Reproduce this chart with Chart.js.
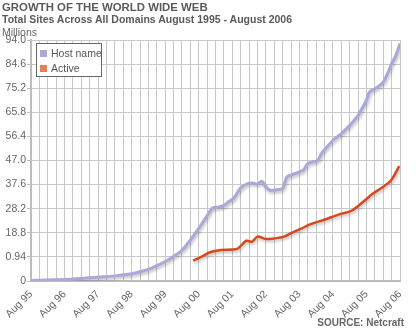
<!DOCTYPE html>
<html>
<head>
<meta charset="utf-8">
<script src="https://cdn.jsdelivr.net/npm/chart.js@4"></script>
<style>
  html, body { margin:0; padding:0; background:#fff; }
  body { width:416px; height:330px; position:relative; overflow:hidden; font-family:"Liberation Sans", Arial, sans-serif; color:#555; }
  #wrap { position:absolute; left:0; top:0; width:416px; height:330px; }
  .t1 { position:absolute; left:2px; top:1px; font-size:11.4px; font-weight:bold; color:#5a5a5a; white-space:nowrap; }
  .t2 { position:absolute; left:2px; top:13px; font-size:10.5px; font-weight:bold; color:#5a5a5a; white-space:nowrap; }
  .t3 { position:absolute; left:2px; top:26px; font-size:10.5px; color:#666; white-space:nowrap; }
  .src { position:absolute; right:12px; top:317px; font-size:10px; font-weight:bold; color:#666; white-space:nowrap; }
  .legend { position:absolute; left:36px; top:43px; width:64px; height:32px; border:1px solid #666; background:#fff; }
  .li { position:absolute; left:3px; font-size:10.5px; color:#555; white-space:nowrap; }
  .sw { display:inline-block; width:7px; height:7px; margin-right:4px; }
</style>
</head>
<body>
<div id="wrap"><canvas id="c" width="416" height="330"></canvas></div>
<div class="t1">GROWTH OF THE WORLD WIDE WEB</div>
<div class="t2">Total Sites Across All Domains August 1995 - August 2006</div>
<div class="t3">Millions</div>
<div class="legend">
  <div class="li" style="top:3px"><span class="sw" style="background:#a9a8d8"></span>Host name</div>
  <div class="li" style="top:18px"><span class="sw" style="background:#e0805f"></span>Active</div>
</div>
<div class="src">SOURCE: Netcraft</div>
<script>
// Months since Aug 1995
const hostMonths = [0,6,12,18,24,30,36,39,42,45,48,51,54,57,60,63,65,67,69,71,72,73,75,78,80,81,82.5,84,85.5,88,90,91.5,93,96,97.5,99,101,102.5,104,106,108,111,114,117,118,120,121,123,124,126,127.5,129,130.5,132];
const hostValues = [0.2,0.4,0.6,1.0,1.5,2.0,2.8,3.6,4.5,6.0,7.6,9.6,12.0,16.0,20.5,25.5,28.5,28.8,29.5,31.2,31.8,33.0,36.3,38.2,38.0,37.8,38.9,36.7,35.4,35.6,36.1,40.6,41.3,42.6,43.4,45.8,46.5,47.0,49.9,52.5,54.9,57.5,60.7,64.6,66.6,70.5,73.7,75.0,75.7,77.6,80.9,84.8,88.0,92.6];
const activeMonths = [58,61,64,68,72,74,77,79,81,84,87,90.5,94,96.4,100,104.6,110.5,114.6,118.8,122.3,125.9,128.8,131.7];
const activeValues = [7.9,9.5,11.2,12.1,12.3,12.7,15.7,15.3,17.3,16.4,16.6,17.3,19.2,20.3,22.2,23.8,26.1,27.4,30.9,34.1,36.7,39.3,44.8];
const xTickLabels = ['Aug 95','Aug 96','Aug 97','Aug 98','Aug 99','Aug 00','Aug 01','Aug 02','Aug 03','Aug 04','Aug 05','Aug 06'];
const yTickValues = [0,9.4,18.8,28.2,37.6,47.0,56.4,65.8,75.2,84.6,94.0];
const yTickLabels = ['0','0.94','18.8','28.2','37.6','47.0','56.4','65.8','75.2','84.6','94.0'];

const shadowPlugin = {
  id:'shadow',
  beforeDatasetsDraw(chart){ const ctx=chart.ctx; ctx.save(); ctx.shadowColor='rgba(0,0,0,0.25)'; ctx.shadowBlur=3; ctx.shadowOffsetX=1; ctx.shadowOffsetY=2; },
  afterDatasetsDraw(chart){ chart.ctx.restore(); }
};

new Chart(document.getElementById('c'), {
  type:'line',
  data:{ datasets:[
    { label:'Host name', data: hostMonths.map((m,i)=>({x:m,y:hostValues[i]})), borderColor:'#a9a8d8', borderWidth:3, pointRadius:0, tension:0.3, fill:false },
    { label:'Active', data: activeMonths.map((m,i)=>({x:m,y:activeValues[i]})), borderColor:'#d9481c', borderWidth:2.5, pointRadius:0, tension:0.3, fill:false }
  ]},
  options:{
    responsive:false, animation:false,
    layout:{ padding:{ left:0, right:12, top:40, bottom:0 } },
    plugins:{ legend:{display:false}, tooltip:{enabled:false}, title:{display:false} },
    scales:{
      x:{ type:'linear', min:0, max:132,
        afterBuildTicks(s){ const t=[]; for(let m=0;m<=132;m+=3) t.push({value:m}); s.ticks=t; },
        afterFit(s){ s.height=49; },
        ticks:{ autoSkip:false, minRotation:45, maxRotation:45, padding:7, color:'#666', font:{family:'Liberation Sans, Arial, sans-serif', size:10.5},
          callback(v){ return (v%12===0) ? xTickLabels[v/12] : ''; } },
        grid:{ color:'#c8c8c8', lineWidth:1, drawTicks:false },
        border:{ color:'#bdbdbd', width:2 }
      },
      y:{ type:'linear', min:0, max:94,
        afterBuildTicks(s){ s.ticks=yTickValues.map(v=>({value:v})); },
        afterFit(s){ s.width=31; },
        ticks:{ autoSkip:false, padding:1, color:'#666', font:{family:'Liberation Sans, Arial, sans-serif', size:10.5},
          callback(v){ const i=yTickValues.indexOf(v); return i>=0 ? yTickLabels[i] : ''; } },
        grid:{ color:'#c8c8c8', lineWidth:1, tickLength:4, tickColor:'#bdbdbd' },
        border:{ color:'#bdbdbd', width:2 }
      }
    }
  },
  plugins:[shadowPlugin]
});
</script>
</body>
</html>
